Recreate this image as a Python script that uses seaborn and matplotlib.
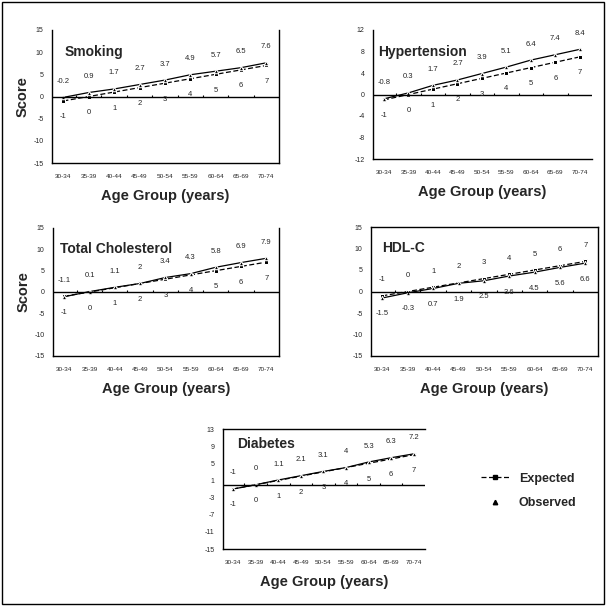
import numpy as np
import pandas as pd
import matplotlib
matplotlib.use("Agg")
import matplotlib.pyplot as plt
from matplotlib.lines import Line2D
from matplotlib.patches import Rectangle
import seaborn as sns

sns.set_style("white")
plt.rcParams['font.family'] = ['Liberation Sans', 'DejaVu Sans']

ages = ['30-34', '35-39', '40-44', '45-49', '50-54', '55-59', '60-64', '65-69', '70-74']

smoking_exp = [-1, 0, 1, 2, 3, 4, 5, 6, 7]
smoking_obs = [-0.2, 0.9, 1.7, 2.7, 3.7, 4.9, 5.7, 6.5, 7.6]
hyper_exp = [-1, 0, 1, 2, 3, 4, 5, 6, 7]
hyper_obs = [-0.8, 0.3, 1.7, 2.7, 3.9, 5.1, 6.4, 7.4, 8.4]
chol_exp = [-1, 0, 1, 2, 3, 4, 5, 6, 7]
chol_obs = [-1.1, 0.1, 1.1, 2, 3.4, 4.3, 5.8, 6.9, 7.9]
hdl_exp = [-1, 0, 1, 2, 3, 4, 5, 6, 7]
hdl_obs = [-1.5, -0.3, 0.7, 1.9, 2.5, 3.6, 4.5, 5.6, 6.6]
diab_exp = [-1, 0, 1, 2, 3, 4, 5, 6, 7]
diab_obs = [-1, 0, 1.1, 2.1, 3.1, 4, 5.3, 6.3, 7.2]

W = H = 606
fig = plt.figure(figsize=(6.06, 6.06), dpi=100)
fig.patches.append(Rectangle((0.004, 0.004), 0.992, 0.992, transform=fig.transFigure,
                             fill=False, edgecolor='black', linewidth=1.0))


def px_axes(l, r, t, b):
    return fig.add_axes([l / W, (H - b) / H, (r - l) / W, (b - t) / H])


panels = [
    dict(title='Smoking', exp=smoking_exp, obs=smoking_obs, box=(52, 279, 30, 163),
         yticks=[15, 10, 5, 0, -5, -10, -15], obs_above=True, ylabel=True,
         spines=('left', 'bottom', 'right'), tx=13, ty=52),
    dict(title='Hypertension', exp=hyper_exp, obs=hyper_obs, box=(373, 592, 30, 159),
         yticks=[12, 8, 4, 0, -4, -8, -12], obs_above=True, ylabel=False,
         spines=('left', 'bottom'), tx=5, ty=52),
    dict(title='Total Cholesterol', exp=chol_exp, obs=chol_obs, box=(53, 279, 228, 356),
         yticks=[15, 10, 5, 0, -5, -10, -15], obs_above=True, ylabel=True,
         spines=('left', 'bottom', 'right'), tx=7, ty=249),
    dict(title='HDL-C', exp=hdl_exp, obs=hdl_obs, box=(371, 598, 227, 356),
         yticks=[15, 10, 5, 0, -5, -10, -15], obs_above=False, ylabel=False,
         spines=('left', 'bottom', 'right', 'top'), tx=11, ty=248),
    dict(title='Diabetes', exp=diab_exp, obs=diab_obs, box=(223, 425, 429, 549),
         yticks=[13, 9, 5, 1, -3, -7, -11, -15], obs_above=True, ylabel=False,
         spines=('left', 'bottom', 'top'), tx=14, ty=444),
]

xpos = np.arange(len(ages))

for p in panels:
    l, r, t, b = p['box']
    ax = px_axes(l, r, t, b)
    df = pd.DataFrame({
        'x': np.concatenate([xpos, xpos]),
        'Score': p['exp'] + p['obs'],
        'Series': ['Expected'] * len(ages) + ['Observed'] * len(ages),
    })
    sns.lineplot(data=df, x='x', y='Score', style='Series', ax=ax, color='black',
                 markers={'Expected': 's', 'Observed': '^'},
                 dashes={'Expected': (4, 2), 'Observed': ''},
                 markersize=3.2, linewidth=0.9, legend=False)
    ax.axhline(0, color='black', linewidth=1.0)
    ax.vlines(xpos[:-1] + 0.5, 0, (p['yticks'][0] - p['yticks'][-1]) * 0.015,
              color='black', linewidth=0.8)
    ax.set_xlim(-0.45, len(ages) - 0.5)
    ax.set_ylim(p['yticks'][-1], p['yticks'][0])
    ax.set_yticks(p['yticks'])
    ax.set_yticklabels([str(v) for v in p['yticks']], fontsize=5)
    ax.set_xticks(xpos)
    ax.set_xticklabels(ages, fontsize=4.6)
    ax.tick_params(axis='x', length=0, pad=8)
    ax.tick_params(axis='y', length=0, pad=6)
    for s in ['left', 'right', 'top', 'bottom']:
        ax.spines[s].set_visible(s in p['spines'])
        ax.spines[s].set_color('black')
        ax.spines[s].set_linewidth(1.0)
    ax.set_xlabel('Age Group (years)', fontsize=10.5, fontweight='bold', labelpad=7)
    if p['ylabel']:
        ax.set_ylabel('Score', fontsize=10.5, fontweight='bold', labelpad=3)
    else:
        ax.set_ylabel('')
    ax.text(p['tx'] / (r - l), (b - p['ty']) / (b - t), p['title'], transform=ax.transAxes,
            fontsize=10, fontweight='bold', ha='left', va='center')
    above = p['obs'] if p['obs_above'] else p['exp']
    below = p['exp'] if p['obs_above'] else p['obs']
    for xi, v in zip(xpos, above):
        ax.annotate(f'{v:g}', (xi, v), xytext=(0, 9), textcoords='offset points',
                    ha='center', va='bottom', fontsize=5.5)
    for xi, v in zip(xpos, below):
        ax.annotate(f'{v:g}', (xi, v), xytext=(0, -9), textcoords='offset points',
                    ha='center', va='top', fontsize=5.5)

handles = [
    Line2D([], [], color='black', linestyle=(0, (4, 2)), marker='s', markersize=3.2, linewidth=0.9),
    Line2D([], [], color='black', linestyle='none', marker='^', markersize=3.2),
]
fig.legend(handles, ['Expected', 'Observed'], loc='center left',
           bbox_to_anchor=(470 / W, 1 - 491 / H), frameon=False,
           prop={'size': 9, 'weight': 'bold'}, handlelength=2.2, labelspacing=1.0)

fig.savefig('out.png', dpi=100)
